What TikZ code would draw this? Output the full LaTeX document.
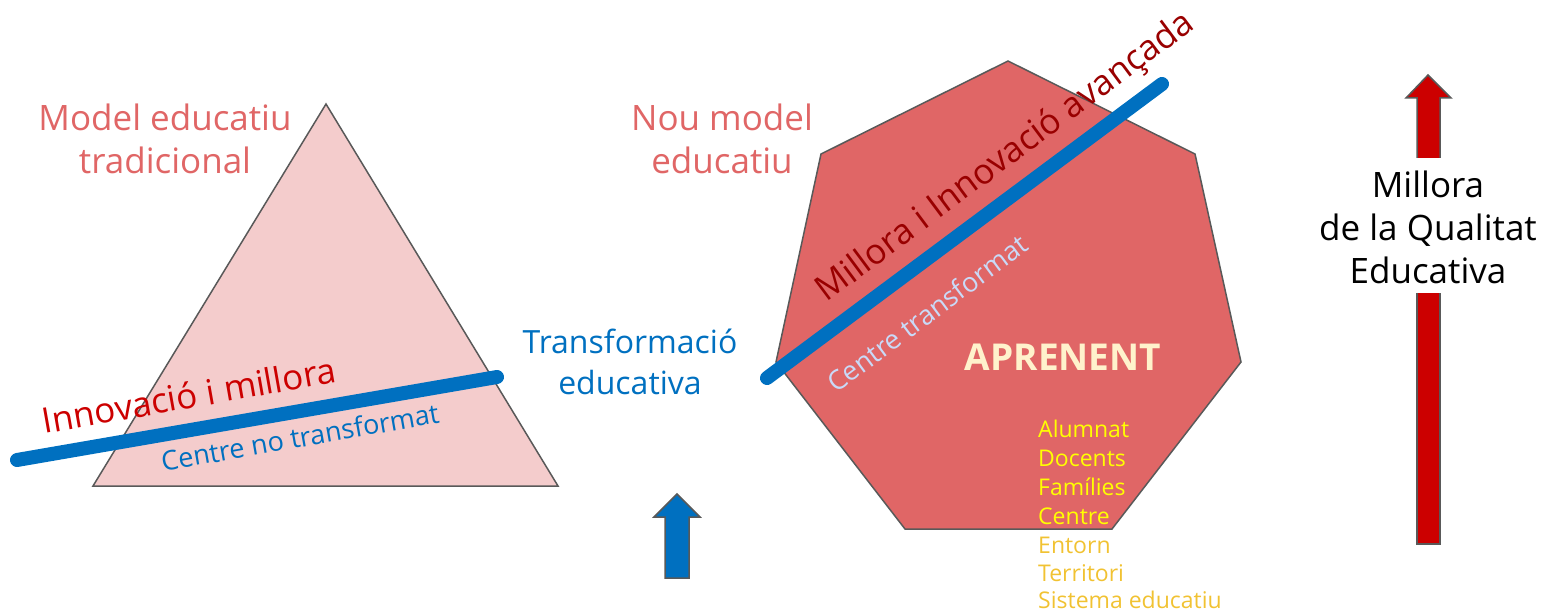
\documentclass[tikz,border=0pt]{standalone}
\usepackage{fontspec}
\setmainfont{Open Sans}
\definecolor{titlepink}{HTML}{E06666}
\definecolor{trifill}{HTML}{F4CCCC}
\definecolor{edgegray}{HTML}{595959}
\definecolor{lineblue}{HTML}{0070C0}
\definecolor{innovred}{HTML}{CC0000}
\definecolor{darkred}{HTML}{990000}
\definecolor{paleblue}{HTML}{C9DAF8}
\definecolor{cream}{HTML}{FFF2CC}
\definecolor{listyellow}{HTML}{FFFF00}
\definecolor{listgold}{HTML}{F1C232}
\begin{document}
\begin{tikzpicture}[x=1pt,y=-1pt,
    bigtext/.style={font=\fontsize{35}{43}\selectfont, align=center, inner sep=0pt},
    midtext/.style={font=\fontsize{32}{41}\selectfont, align=center, inner sep=0pt},
    smalltext/.style={font=\fontsize{27}{32}\selectfont, inner sep=0pt},
    listtext/.style={font=\fontsize{23}{29}\selectfont, inner sep=0pt, anchor=base west},
    blueline/.style={draw=lineblue, line width=14pt, line cap=round}]
        \useasboundingbox (0,0) rectangle (1547,612);

        % left: traditional model
        \filldraw[fill=trifill, draw=edgegray, line width=1.5pt] (326,104) -- (558,486) -- (93,486) -- cycle;
        \node[bigtext, text=titlepink] (tradicional) at (165,139) {Model educatiu\\tradicional};
        \coordinate (l1a) at (17,460);
        \coordinate (l1b) at (497,377);
        \draw[blueline] (l1a) -- (l1b);
        \node[bigtext, text=innovred, rotate=10] (innovacio) at (189,395) {Innovació i millora};
        \node[smalltext, text=lineblue, rotate=10] (notransf) at (300,437) {Centre no transformat};

        % middle
        \node[midtext, text=lineblue] (transf) at (630,362) {Transformació\\educativa};
        \filldraw[fill=lineblue, draw=edgegray, line width=1.5pt] (677,494) -- (700,517) -- (689,517) -- (689,578) -- (665,578) -- (665,517) -- (654,517) -- cycle;

        % right: new model
        \node[bigtext, text=titlepink] (nou) at (722,139) {Nou model\\educatiu};
        \filldraw[fill=titlepink, draw=edgegray, line width=1.5pt] (1008,61) -- (1195,154) -- (1241,362) -- (1112,529) -- (905,529) -- (776,362) -- (821,154) -- cycle;
        \coordinate (l2a) at (767,378);
        \coordinate (l2b) at (1162,84);
        \draw[blueline] (l2a) -- (l2b);
        \node[bigtext, text=darkred, rotate=36.7] (avancada) at (1006,158) {Millora i Innovació avançada};
        \node[smalltext, text=paleblue, rotate=36.7] (transformat) at (927,313) {Centre transformat};
        \node[font=\fontsize{37}{42}\selectfont\bfseries, text=cream, inner sep=0pt] (aprenent) at (1063,357) {APRENENT};

        \node[listtext, text=listyellow] (alumnat) at (1038,437) {Alumnat};
        \node[listtext, text=listyellow] (docents) at (1038,466) {Docents};
        \node[listtext, text=listyellow] (families) at (1038,495) {Famílies};
        \node[listtext, text=listyellow] (centre) at (1038,524) {Centre};
        \node[listtext, text=listgold] (entorn) at (1038,553) {Entorn};
        \node[listtext, text=listgold] (territori) at (1038,581) {Territori};
        \node[listtext, text=listgold] (sistema) at (1038,608) {Sistema educatiu};

        % quality arrow
        \fill[innovred] (1417,158) -- (1417,98) -- (1406,98) -- (1428,75) -- (1451,98) -- (1440,98) -- (1440,158) -- cycle;
        \draw[edgegray, line width=1.5pt] (1417,158) -- (1417,98) -- (1406,98) -- (1428,75) -- (1451,98) -- (1440,98) -- (1440,158);
        \fill[innovred] (1417,293) rectangle (1440,544);
        \draw[edgegray, line width=1.5pt] (1417,293) -- (1417,544) -- (1440,544) -- (1440,293);
        \node[bigtext, text=black] (qualitat) at (1428,227) {Millora\\de la Qualitat\\Educativa};

        \end{tikzpicture}
\end{document}
